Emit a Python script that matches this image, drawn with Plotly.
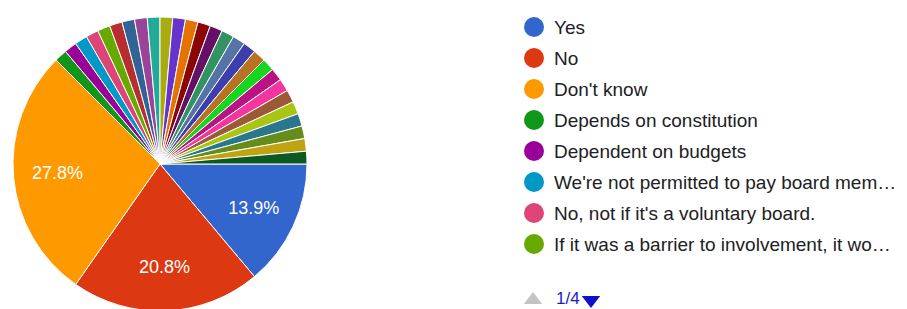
import plotly.graph_objects as go

# ---- data ----
labels = [
    "Yes", "No", "Don't know", "Depends on constitution", "Dependent on budgets",
    "We're not permitted to pay board mem…", "No, not if it's a voluntary board.",
    "If it was a barrier to involvement, it wo…",
] + [f"Other response {i}" for i in range(9, 31)]
counts = [10, 15, 20] + [1] * 27
colors = [
    "#3366cc", "#dc3912", "#ff9900", "#109618", "#990099", "#0099c6", "#dd4477",
    "#66aa00", "#b82e2e", "#316395", "#994499", "#22aa99", "#aaaa11", "#6633cc",
    "#e67300", "#8b0707", "#651067", "#329262", "#5574a6", "#3b3eac", "#b77322",
    "#16d620", "#b91383", "#f4359e", "#9c5935", "#a9c413", "#2a778d", "#668d1c",
    "#bea413", "#0c5922",
]
legend_page_labels = labels[:8]
page_text = "1/4"

W, H = 907, 309
OFF = 8  # page body margin: figure is drawn 8px right/down in the window
FONT = "Liberation Sans, Arial, sans-serif"

# pie box in window pixels -> figure pixels
cx, cy, r = 160 - OFF, 164 - OFF, 147
dom_x = [(cx - r) / W, (cx + r) / W]
dom_y = [max(0, (H - (cy + r)) / H), (H - (cy - r)) / H]

templates = ["%{percent:.1%}" if c / sum(counts) > 0.05 else "" for c in counts]

fig = go.Figure()
fig.add_trace(go.Pie(
    labels=labels, values=counts, sort=False, direction="clockwise", rotation=90,
    marker=dict(colors=colors, line=dict(color="white", width=1)),
    textinfo="none", domain=dict(x=dom_x, y=dom_y), showlegend=False,
    hoverinfo="label+percent",
))
# transparent ring overlay only to carry the percentage labels further out
fig.add_trace(go.Pie(
    labels=labels, values=counts, sort=False, direction="clockwise", rotation=90,
    hole=0.4, marker=dict(colors=["rgba(0,0,0,0)"] * len(counts), line=dict(width=0)),
    texttemplate=templates, textposition="inside", insidetextorientation="horizontal",
    textfont=dict(color="white", size=18, family=FONT),
    domain=dict(x=dom_x, y=dom_y), showlegend=False, hoverinfo="skip",
))

# custom legend (page 1 of 4), drawn on overlay axes mapped to window pixels
row_h = 31
y0 = 27
idx = list(range(len(legend_page_labels)))
ys = [y0 + i * row_h for i in idx]
fig.add_trace(go.Scatter(
    x=[534] * len(idx), y=ys, mode="markers",
    marker=dict(size=20, color=colors[:len(idx)], line=dict(width=0), opacity=1),
    xaxis="x", yaxis="y", showlegend=False, hoverinfo="skip",
))
for lab, yy in zip(legend_page_labels, ys):
    fig.add_annotation(x=552, y=yy, xref="x", yref="y", text=lab, showarrow=False,
                       xanchor="left", yanchor="middle",
                       font=dict(size=19, color="#202124", family=FONT))
# pager arrows
fig.add_trace(go.Scatter(
    x=[533, 591], y=[300, 300], mode="markers",
    marker=dict(size=[16, 16], symbol=["triangle-up", "triangle-down"],
                color=["#c4c4c4", "#1010cc"], line=dict(width=0), opacity=1),
    xaxis="x", yaxis="y", showlegend=False, hoverinfo="skip",
))
fig.add_annotation(x=554, y=298, xref="x", yref="y", text=page_text, showarrow=False,
                   xanchor="left", yanchor="middle", font=dict(size=17, color="#1a1acc", family=FONT))

fig.update_layout(
    width=W, height=H, margin=dict(l=0, r=0, t=0, b=0),
    paper_bgcolor="white", plot_bgcolor="rgba(0,0,0,0)",
    xaxis=dict(range=[OFF, W + OFF], domain=[0, 1], visible=False, fixedrange=True),
    yaxis=dict(range=[H + OFF, OFF], domain=[0, 1], visible=False, fixedrange=True),
    font=dict(family=FONT),
)
fig.write_html("out.html")
